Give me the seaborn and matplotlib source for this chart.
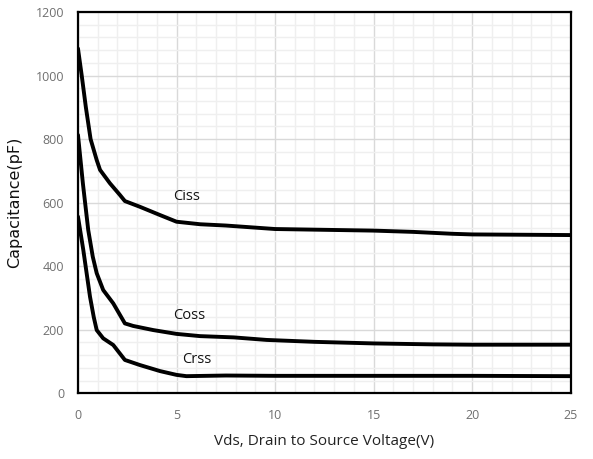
import matplotlib
matplotlib.use("Agg")
import matplotlib.pyplot as plt
import seaborn as sns
import pandas as pd
from matplotlib.ticker import MultipleLocator

# Data
ciss_v = [0, 0.19, 0.4, 0.64, 0.95, 1.12, 1.62, 2.13, 2.38, 3.14, 4.16, 5.0, 6.2, 7.5, 10, 15, 17, 19, 20, 25]
ciss_c = [1085, 1000, 900, 800, 734, 703, 661, 624, 605, 587, 561, 540, 532, 528, 517, 512, 508, 502, 500, 498]
coss_v = [0, 0.25, 0.52, 0.75, 0.95, 1.28, 1.79, 2.38, 2.8, 3.82, 5.0, 6.19, 7.9, 9.57, 12, 15, 18, 20, 25]
coss_c = [813, 660, 514, 430, 378, 325, 283, 220, 212, 199, 187, 180, 176, 168, 162, 157, 154, 153, 153]
crss_v = [0, 0.27, 0.61, 0.8, 0.95, 1.28, 1.79, 2.38, 3.14, 4.16, 5.0, 5.5, 7.5, 10, 15, 20, 25]
crss_c = [556, 451, 304, 240, 199, 173, 152, 105, 89, 70, 58, 54, 56, 55, 55, 55, 54]
curve_names = ["Ciss", "Coss", "Crss"]
label_pos_v = [4.82, 4.82, 5.28]
label_pos_c = [618, 246, 105]

df = pd.concat([
    pd.DataFrame({"Vds": ciss_v, "C": ciss_c, "curve": "Ciss"}),
    pd.DataFrame({"Vds": coss_v, "C": coss_c, "curve": "Coss"}),
    pd.DataFrame({"Vds": crss_v, "C": crss_c, "curve": "Crss"}),
])

sns.set_theme(style="white")
plt.rcParams["font.family"] = ["Open Sans", "DejaVu Sans"]

fig = plt.figure(figsize=(5.93, 4.59), dpi=100)
ax = fig.add_axes([0.1315, 0.1431, 0.9624 - 0.1315, 0.9739 - 0.1431])

sns.lineplot(data=df, x="Vds", y="C", hue="curve", palette=["black"] * 3,
             linewidth=2.8, legend=False, ax=ax, sort=False, estimator=None)

ax.set_xlim(0, 25)
ax.set_ylim(0, 1200)
ax.xaxis.set_major_locator(MultipleLocator(5))
ax.xaxis.set_minor_locator(MultipleLocator(1))
ax.yaxis.set_major_locator(MultipleLocator(200))
ax.yaxis.set_minor_locator(MultipleLocator(40))
ax.grid(which="major", color="#d9d9d9", linewidth=1.0)
ax.grid(which="minor", color="#efefef", linewidth=1.0)
ax.set_axisbelow(True)

for s in ax.spines.values():
    s.set_color("black")
    s.set_linewidth(1.6)
    s.set_visible(True)

ax.tick_params(axis="both", which="both", length=0, labelsize=9, labelcolor="#6f6f6f")
ax.tick_params(axis="x", pad=11)
ax.tick_params(axis="y", pad=10)

ax.set_xlabel("Vds, Drain to Source Voltage(V)", fontsize=11, color="#222222", labelpad=9)
ax.set_ylabel("Capacitance(pF)", fontsize=11.5, color="#111111", labelpad=10,
              family=["DejaVu Sans"])

for name, xv, yv in zip(curve_names, label_pos_v, label_pos_c):
    ax.text(xv, yv, name, fontsize=10.5, color="#111111", ha="left", va="center")

fig.savefig("out.png", dpi=100)
